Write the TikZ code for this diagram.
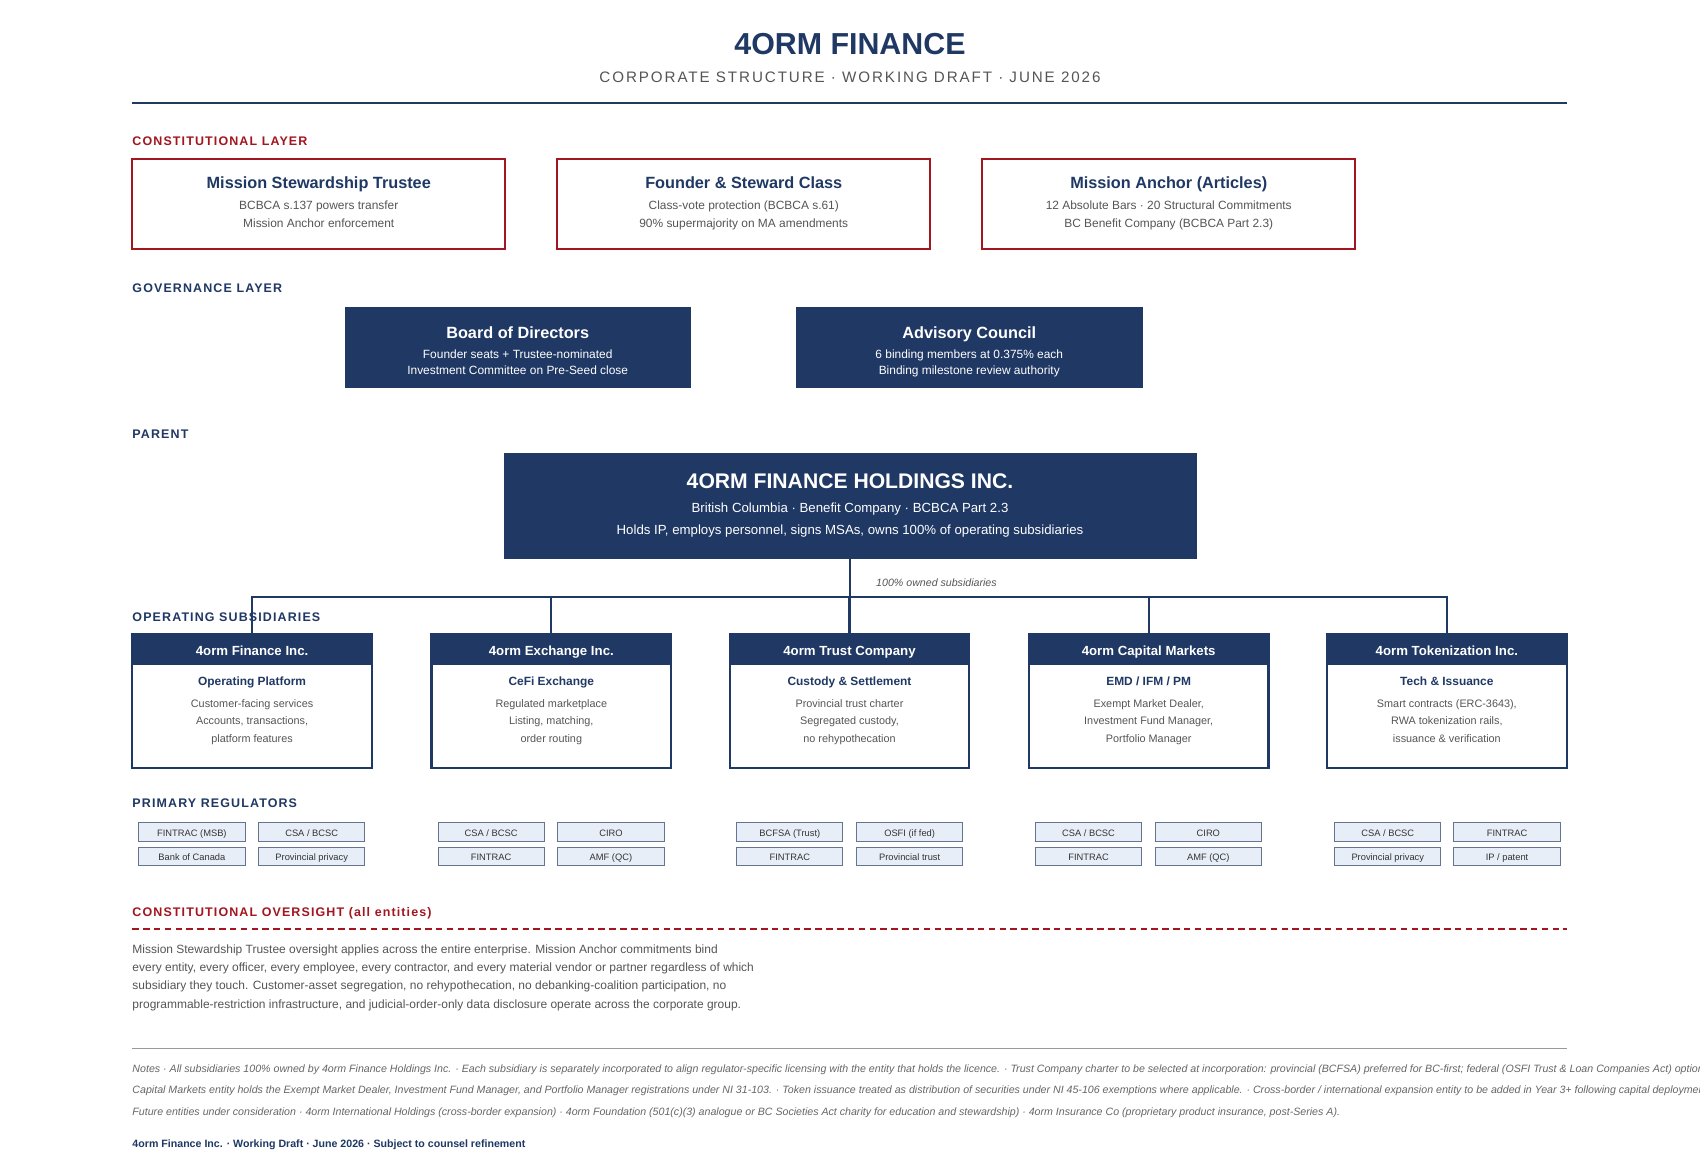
\documentclass[tikz,border=0pt]{standalone}
\usepackage{fontspec}
\setmainfont{Liberation Sans}
\newfontfamily\lsSub[LetterSpace=12.6]{Liberation Sans}
\newfontfamily\lsSec[LetterSpace=9]{Liberation Sans}
\usetikzlibrary{calc}
\definecolor{navy}{HTML}{1F3864}
\definecolor{crim}{HTML}{A3161F}
\definecolor{txtgray}{HTML}{555555}
\definecolor{dgray}{HTML}{333333}
\definecolor{notegray}{HTML}{666666}
\definecolor{regfill}{HTML}{E8EEF7}
\definecolor{regdraw}{HTML}{66758F}
\newcommand\fsz[1]{\fontsize{#1}{#1}\selectfont}
\tikzset{
  sec/.style={anchor=base west, inner sep=0pt, font=\lsSec\bfseries\fsz{11.5}},
  constbox/.style={draw=crim, line width=2pt, fill=white, minimum width=344, minimum height=83, inner sep=0pt},
  ctitle/.style={anchor=base, inner sep=0pt, text=navy, font=\bfseries\fsz{15}},
  cline/.style={anchor=base, inner sep=0pt, text=txtgray, font=\fsz{11}},
  govbox/.style={fill=navy, draw=navy, minimum width=319, minimum height=74, inner sep=0pt},
  gtitle/.style={anchor=base, inner sep=0pt, text=white, font=\bfseries\fsz{15}},
  gline/.style={anchor=base, inner sep=0pt, text=white, font=\fsz{11}},
  subbox/.style={draw=navy, line width=2pt, fill=white, minimum width=221, minimum height=123, inner sep=0pt},
  subhead/.style={draw=navy, line width=2pt, fill=navy, text=white, minimum width=221, minimum height=27, inner sep=0pt, text height=13, text depth=1.5, font=\bfseries\fsz{12.2}},
  stitle/.style={anchor=base, inner sep=0pt, text=navy, font=\bfseries\fsz{11}},
  sline/.style={anchor=base, inner sep=0pt, text=txtgray, font=\fsz{10}},
  reg/.style={draw=regdraw, line width=0.9pt, fill=regfill, text=dgray, minimum width=98, minimum height=17, inner sep=0pt, text height=9.4, text depth=1.2, font=\fsz{8.6}},
  para/.style={anchor=base west, inner sep=0pt, text=txtgray, font=\fsz{11.05}},
  note/.style={anchor=base west, inner sep=0pt, text=notegray, font=\itshape\fsz{9.8}},
  conn/.style={draw=navy, line width=2pt},
}
\begin{document}
\begin{tikzpicture}[x=1pt, y=-1pt]
\useasboundingbox[fill=white] (0,0) rectangle (1568,1078);

% header
\node[anchor=base, inner sep=0pt, text=navy, font=\bfseries\fsz{28}] (title) at (784,50) {4ORM FINANCE};
\node[anchor=base, inner sep=0pt, text=txtgray, font=\lsSub\fsz{14}] (subtitle) at (784,76) {CORPORATE STRUCTURE · WORKING DRAFT · JUNE 2026};
\draw[navy, line width=2pt] (122,95) -- (1445,95);

% constitutional layer
\node[sec, text=crim] (lconst) at (122,134.6) {CONSTITUTIONAL LAYER};
\node[constbox] (c1) at (294,188.5) {};
\node[constbox] (c2) at (686,188.5) {};
\node[constbox] (c3) at (1078,188.5) {};
\node[ctitle] (c1t) at (294,173.9) {Mission Stewardship Trustee};
\node[cline] (c1a) at (294,193.2) {BCBCA s.137 powers transfer};
\node[cline] (c1b) at (294,210.2) {Mission Anchor enforcement};
\node[ctitle] (c2t) at (686,173.9) {Founder \& Steward Class};
\node[cline] (c2a) at (686,193.2) {Class-vote protection (BCBCA s.61)};
\node[cline] (c2b) at (686,210.2) {90\% supermajority on MA amendments};
\node[ctitle] (c3t) at (1078,173.9) {Mission Anchor (Articles)};
\node[cline] (c3a) at (1078,193.2) {12 Absolute Bars · 20 Structural Commitments};
\node[cline] (c3b) at (1078,210.2) {BC Benefit Company (BCBCA Part 2.3)};

% governance layer
\node[sec, text=navy] (lgov) at (122,269.6) {GOVERNANCE LAYER};
\node[govbox] (board) at (477.5,320) {};
\node[govbox] (adv) at (894,320) {};
\node[gtitle] (boardt) at (477.5,311.9) {Board of Directors};
\node[gline] (boarda) at (477.5,330.4) {Founder seats + Trustee-nominated};
\node[gline] (boardb) at (477.5,345.4) {Investment Committee on Pre-Seed close};
\node[gtitle] (advt) at (894,311.9) {Advisory Council};
\node[gline] (adva) at (894,330.4) {6 binding members at 0.375\% each};
\node[gline] (advb) at (894,345.4) {Binding milestone review authority};

% parent
\node[sec, text=navy] (lparent) at (122,404.6) {PARENT};
\node[fill=navy, draw=navy, minimum width=638, minimum height=97, inner sep=0pt] (hold) at (784,466.5) {};
\node[anchor=base, inner sep=0pt, text=white, font=\bfseries\fsz{19.5}] (holdt) at (784,450.5) {4ORM FINANCE HOLDINGS INC.};
\node[anchor=base, inner sep=0pt, text=white, font=\fsz{12.2}] (holda) at (784,472.8) {British Columbia · Benefit Company · BCBCA Part 2.3};
\node[anchor=base, inner sep=0pt, text=white, font=\fsz{12.2}] (holdb) at (784,492.8) {Holds IP, employs personnel, signs MSAs, owns 100\% of operating subsidiaries};
\node[anchor=base west, inner sep=0pt, text=txtgray, font=\itshape\fsz{9.8}] (ownlbl) at (808,540.8) {100\% owned subsidiaries};

% operating subsidiaries
\node[sec, text=navy] (lops) at (122,573.6) {OPERATING SUBSIDIARIES};

\node[subbox] (s1) at (232.5,646.5) {};
\node[subhead] (s1h) at (232.5,598.5) {4orm Finance Inc.};
\node[stitle] (s1t) at (232.5,631.9) {Operating Platform};
\node[sline] (s1a) at (232.5,652.6) {Customer-facing services};
\node[sline] (s1b) at (232.5,668.6) {Accounts, transactions,};
\node[sline] (s1c) at (232.5,684.6) {platform features};

\node[subbox] (s2) at (508.5,646.5) {};
\node[subhead] (s2h) at (508.5,598.5) {4orm Exchange Inc.};
\node[stitle] (s2t) at (508.5,631.9) {CeFi Exchange};
\node[sline] (s2a) at (508.5,652.6) {Regulated marketplace};
\node[sline] (s2b) at (508.5,668.6) {Listing, matching,};
\node[sline] (s2c) at (508.5,684.6) {order routing};

\node[subbox] (s3) at (783.5,646.5) {};
\node[subhead] (s3h) at (783.5,598.5) {4orm Trust Company};
\node[stitle] (s3t) at (783.5,631.9) {Custody \& Settlement};
\node[sline] (s3a) at (783.5,652.6) {Provincial trust charter};
\node[sline] (s3b) at (783.5,668.6) {Segregated custody,};
\node[sline] (s3c) at (783.5,684.6) {no rehypothecation};

\node[subbox] (s4) at (1059.5,646.5) {};
\node[subhead] (s4h) at (1059.5,598.5) {4orm Capital Markets};
\node[stitle] (s4t) at (1059.5,631.9) {EMD / IFM / PM};
\node[sline] (s4a) at (1059.5,652.6) {Exempt Market Dealer,};
\node[sline] (s4b) at (1059.5,668.6) {Investment Fund Manager,};
\node[sline] (s4c) at (1059.5,684.6) {Portfolio Manager};

\node[subbox] (s5) at (1334.5,646.5) {};
\node[subhead] (s5h) at (1334.5,598.5) {4orm Tokenization Inc.};
\node[stitle] (s5t) at (1334.5,631.9) {Tech \& Issuance};
\node[sline] (s5a) at (1334.5,652.6) {Smart contracts (ERC-3643),};
\node[sline] (s5b) at (1334.5,668.6) {RWA tokenization rails,};
\node[sline] (s5c) at (1334.5,684.6) {issuance \& verification};

% connectors
\coordinate (bus) at (784,551);
\draw[conn] (hold.south) -- (hold.south |- bus);
\draw[conn] (s1h.north) -- (s1h.north |- bus) -- (s5h.north |- bus) -- (s5h.north);
\draw[conn] (s2h.north |- bus) -- (s2h.north);
\draw[conn] (s3h.north |- bus) -- (s3h.north);
\draw[conn] (s4h.north |- bus) -- (s4h.north);

% regulators
\node[sec, text=navy] (lreg) at (122,744.6) {PRIMARY REGULATORS};
\node[reg] (r1a) at (177,767.5) {FINTRAC (MSB)};
\node[reg] (r1b) at (287.5,767.5) {CSA / BCSC};
\node[reg] (r1c) at (177,790) {Bank of Canada};
\node[reg] (r1d) at (287.5,790) {Provincial privacy};
\node[reg] (r2a) at (453,767.5) {CSA / BCSC};
\node[reg] (r2b) at (563.5,767.5) {CIRO};
\node[reg] (r2c) at (453,790) {FINTRAC};
\node[reg] (r2d) at (563.5,790) {AMF (QC)};
\node[reg] (r3a) at (728.5,767.5) {BCFSA (Trust)};
\node[reg] (r3b) at (839,767.5) {OSFI (if fed)};
\node[reg] (r3c) at (728.5,790) {FINTRAC};
\node[reg] (r3d) at (839,790) {Provincial trust};
\node[reg] (r4a) at (1004,767.5) {CSA / BCSC};
\node[reg] (r4b) at (1114.5,767.5) {CIRO};
\node[reg] (r4c) at (1004,790) {FINTRAC};
\node[reg] (r4d) at (1114.5,790) {AMF (QC)};
\node[reg] (r5a) at (1280,767.5) {CSA / BCSC};
\node[reg] (r5b) at (1390,767.5) {FINTRAC};
\node[reg] (r5c) at (1280,790) {Provincial privacy};
\node[reg] (r5d) at (1390,790) {IP / patent};

% oversight
\node[sec, text=crim] (lover) at (122,845.6) {CONSTITUTIONAL OVERSIGHT (all entities)};
\draw[crim, line width=1.3pt, dash pattern=on 6pt off 4pt] (122,857) -- (1445,857);
\node[para] (p1) at (122,879) {Mission Stewardship Trustee oversight applies across the entire enterprise. Mission Anchor commitments bind};
\node[para] (p2) at (122,896) {every entity, every officer, every employee, every contractor, and every material vendor or partner regardless of which};
\node[para] (p3) at (122,913) {subsidiary they touch. Customer-asset segregation, no rehypothecation, no debanking-coalition participation, no};
\node[para] (p4) at (122,930) {programmable-restriction infrastructure, and judicial-order-only data disclosure operate across the corporate group.};

% notes
\draw[gray!80, line width=1.3pt] (122,967) -- (1445,967);
\node[note] (n1) at (122,989.5) {Notes · All subsidiaries 100\% owned by 4orm Finance Holdings Inc. · Each subsidiary is separately incorporated to align regulator-specific licensing with the entity that holds the licence. · Trust Company charter to be selected at incorporation: provincial (BCFSA) preferred for BC-first; federal (OSFI Trust \& Loan Companies Act) option};
\node[note] (n2) at (122,1008.5) {Capital Markets entity holds the Exempt Market Dealer, Investment Fund Manager, and Portfolio Manager registrations under NI 31-103. · Token issuance treated as distribution of securities under NI 45-106 exemptions where applicable. · Cross-border / international expansion entity to be added in Year 3+ following capital deployment};
\node[note] (n3) at (122,1028.5) {Future entities under consideration · 4orm International Holdings (cross-border expansion) · 4orm Foundation (501(c)(3) analogue or BC Societies Act charity for education and stewardship) · 4orm Insurance Co (proprietary product insurance, post-Series A).};
\node[anchor=base west, inner sep=0pt, text=navy, font=\bfseries\fsz{9.8}] (foot) at (122,1058) {4orm Finance Inc. · Working Draft · June 2026 · Subject to counsel refinement};
\end{tikzpicture}
\end{document}
